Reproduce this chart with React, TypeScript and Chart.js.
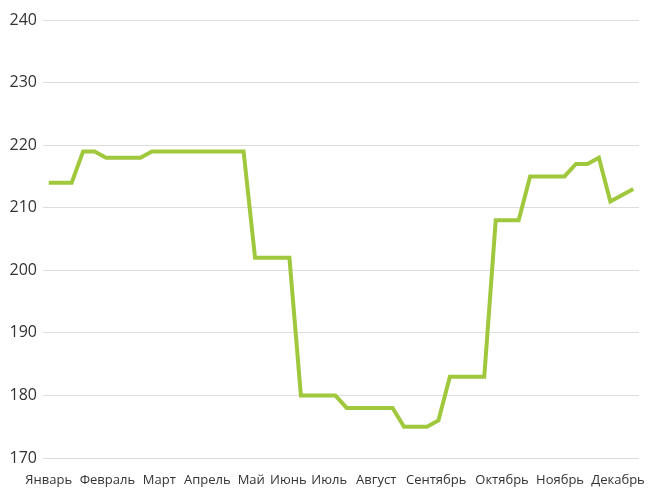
import React, { useEffect, useRef } from "react";
import { Chart, registerables } from "chart.js";

Chart.register(...registerables);

// Weekly prices (52 weeks)
const weeklyValues: number[] = [
  214, 214, 214, 219, 219, 218, 218, 218, 218, 219,
  219, 219, 219, 219, 219, 219, 219, 219, 202, 202,
  202, 202, 180, 180, 180, 180, 178, 178, 178, 178,
  178, 175, 175, 175, 176, 183, 183, 183, 183, 208,
  208, 208, 215, 215, 215, 215, 217, 217, 218, 211,
  212, 213,
];

const monthLabels: string[] = [
  "Январь", "Февраль", "Март", "Апрель", "Май", "Июнь",
  "Июль", "Август", "Сентябрь", "Октябрь", "Ноябрь", "Декабрь",
];

// Week index at which each month label sits on the axis
const monthWeekPos: number[] = [
  0, 5.12, 9.65, 13.84, 17.67, 20.9, 24.47, 28.57, 33.8, 39.55, 44.61, 49.67,
];

const yTicks: number[] = [170, 180, 190, 200, 210, 220, 230, 240];

export default function App() {
  const canvasRef = useRef<HTMLCanvasElement | null>(null);

  useEffect(() => {
    document.body.style.margin = "0";
    const canvas = canvasRef.current;
    if (!canvas) return;
    const points = weeklyValues.map((v, i) => ({ x: i, y: v }));
    const chart = new Chart(canvas, {
      type: "line",
      data: {
        datasets: [
          {
            data: points,
            borderColor: "#a0c83c",
            backgroundColor: "#a0c83c",
            borderWidth: 4,
            pointRadius: 0,
            pointHoverRadius: 0,
            tension: 0,
            fill: false,
            borderJoinStyle: "miter",
          },
        ],
      },
      options: {
        animation: false,
        responsive: false,
        maintainAspectRatio: false,
        layout: { padding: { top: 20, right: 9, left: 0, bottom: 0 } },
        plugins: {
          legend: { display: false },
          tooltip: { enabled: false },
        },
        scales: {
          x: {
            type: "linear",
            min: -0.5,
            max: weeklyValues.length - 0.5,
            grid: { display: false, drawTicks: false },
            border: { display: false },
            afterBuildTicks: (scale: any) => {
              scale.ticks = monthWeekPos.map((v) => ({ value: v }));
            },
            afterFit: (scale: any) => {
              scale.height = 31;
              scale.paddingLeft = 0;
              scale.paddingRight = 0;
            },
            ticks: {
              autoSkip: false,
              maxRotation: 0,
              minRotation: 0,
              padding: 14,
              color: "#333333",
              font: { family: "'Open Sans', sans-serif", size: 13 },
              callback: (_v: any, i: number) => monthLabels[i],
            },
          },
          y: {
            min: yTicks[0],
            max: yTicks[yTicks.length - 1],
            afterBuildTicks: (scale: any) => {
              scale.ticks = yTicks.map((v) => ({ value: v }));
            },
            afterFit: (scale: any) => {
              scale.width = 43;
              scale.paddingTop = 0;
              scale.paddingBottom = 0;
            },
            grid: { color: "#dddddd", lineWidth: 1, drawTicks: false },
            border: { display: false },
            ticks: {
              padding: 6,
              color: "#333333",
              font: { family: "'Open Sans', sans-serif", size: 16 },
            },
          },
        },
      },
    });
    return () => chart.destroy();
  }, []);

  return (
    <div style={{ width: 648, height: 489, position: "relative" }}>
      <canvas ref={canvasRef} width={648} height={489} style={{ display: "block" }} />
    </div>
  );
}
